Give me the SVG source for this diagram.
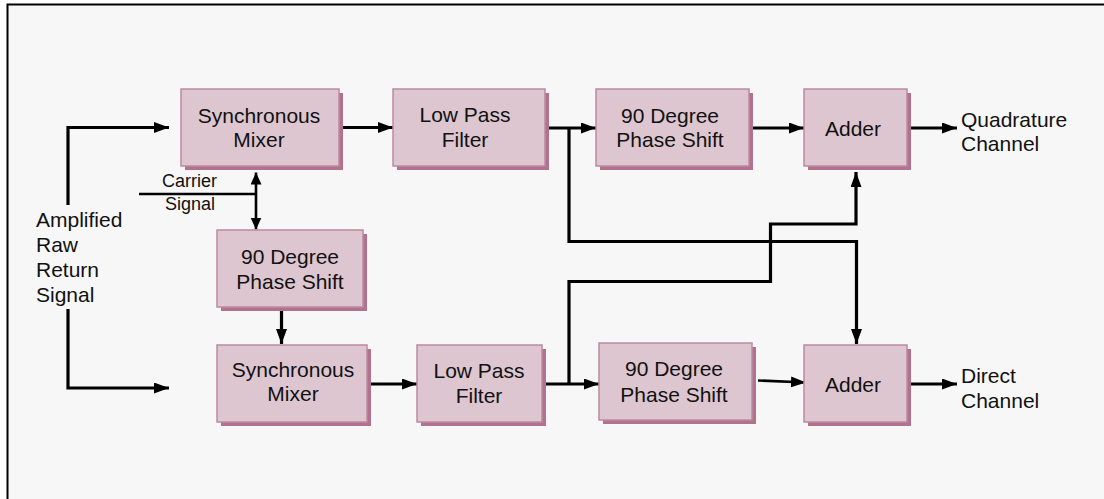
<svg xmlns="http://www.w3.org/2000/svg" width="1104" height="499" viewBox="0 0 1104 499">
<style>
.box{fill:#ddc6d0;stroke:#bd8aa1;stroke-width:1.5}
.sh{fill:#b0728c}
.t{font-family:"Liberation Sans",Arial,sans-serif;font-size:21px;fill:#111}
.ts{font-family:"Liberation Sans",Arial,sans-serif;font-size:18px;fill:#111}
.c{text-anchor:middle}
.w{fill:none;stroke:#000;stroke-width:3.2;stroke-linejoin:miter}
</style>
<defs>
<marker id="ah" markerUnits="userSpaceOnUse" markerWidth="16" markerHeight="12" refX="15" refY="5.5" orient="auto-start-reverse">
<path d="M0,0 L15,5.5 L0,11 z" fill="#000"/>
</marker>
<marker id="as" markerUnits="userSpaceOnUse" markerWidth="14" markerHeight="12" refX="12" refY="5.5" orient="auto-start-reverse">
<path d="M0,0 L12,5.5 L0,11 z" fill="#000"/>
</marker>
</defs>
<rect x="0" y="0" width="1104" height="499" fill="#fff"/>
<rect x="7.5" y="4.5" width="1200" height="600" fill="#f7f7f7" stroke="#000" stroke-width="2"/>

<g id="connectors">
<path class="w" d="M68,205 V127.5 H169" marker-end="url(#ah)"/>
<path class="w" d="M68,309 V388 H169" marker-end="url(#ah)"/>
<path class="w" d="M343,127.5 H393" marker-end="url(#ah)"/>
<path class="w" d="M545,128 H596" marker-end="url(#ah)"/>
<path class="w" d="M569,128 V241.5 H856.5 V344" marker-end="url(#ah)"/>
<path class="w" d="M753,128 H804" marker-end="url(#ah)"/>
<path class="w" d="M907,128 H957" marker-end="url(#ah)"/>
<path class="w" d="M371,384 H417" marker-end="url(#ah)"/>
<path class="w" d="M542,384 H599" marker-end="url(#ah)"/>
<path class="w" d="M569,384 V281.5 H770.5 V224 H856 V172" marker-end="url(#ah)"/>
<path fill="none" stroke="#000" stroke-width="2.6" d="M758,380.5 L806,382.5" marker-end="url(#ah)"/>
<path class="w" d="M907,384 H957" marker-end="url(#ah)"/>
<path class="w" d="M281.5,307 V344" marker-end="url(#ah)"/>
<path fill="none" stroke="#000" stroke-width="2.6" d="M139,194 H256"/>
<path fill="none" stroke="#000" stroke-width="2.6" d="M256,172.5 V229.5" marker-start="url(#as)" marker-end="url(#as)"/>
</g>

<g id="sync-mixer-top">
<rect class="sh" x="185" y="93" width="158" height="77"/>
<rect class="box" x="181" y="89" width="158" height="77"/>
<text class="t c" x="259" y="123">Synchronous</text>
<text class="t c" x="259" y="147">Mixer</text>
</g>
<g id="lpf-top">
<rect class="sh" x="397" y="93" width="152" height="77"/>
<rect class="box" x="393" y="89" width="152" height="77"/>
<text class="t c" x="465" y="122">Low Pass</text>
<text class="t c" x="465" y="147">Filter</text>
</g>
<g id="phase-top">
<rect class="sh" x="600" y="93" width="153" height="77"/>
<rect class="box" x="596" y="89" width="153" height="77"/>
<text class="t c" x="670" y="123">90 Degree</text>
<text class="t c" x="670" y="147">Phase Shift</text>
</g>
<g id="adder-top">
<rect class="sh" x="808" y="93" width="103" height="77"/>
<rect class="box" x="804" y="89" width="103" height="77"/>
<text class="t c" x="853" y="136">Adder</text>
</g>
<g id="quadrature-label">
<text class="t" x="961" y="127">Quadrature</text>
<text class="t" x="961" y="151">Channel</text>
</g>
<g id="carrier-label">
<text class="ts" x="162" y="187">Carrier</text>
<text class="ts" x="165" y="210">Signal</text>
</g>
<g id="input-label">
<text class="t" x="36" y="227">Amplified</text>
<text class="t" x="36" y="252">Raw</text>
<text class="t" x="36" y="277">Return</text>
<text class="t" x="36" y="302">Signal</text>
</g>
<g id="phase-left">
<rect class="sh" x="221" y="234" width="146" height="77"/>
<rect class="box" x="217" y="230" width="146" height="77"/>
<text class="t c" x="290" y="264">90 Degree</text>
<text class="t c" x="290" y="289">Phase Shift</text>
</g>
<g id="sync-mixer-bottom">
<rect class="sh" x="221" y="349" width="150" height="77"/>
<rect class="box" x="217" y="345" width="150" height="77"/>
<text class="t c" x="293" y="377">Synchronous</text>
<text class="t c" x="293" y="401">Mixer</text>
</g>
<g id="lpf-bottom">
<rect class="sh" x="421" y="349" width="125" height="77"/>
<rect class="box" x="417" y="345" width="125" height="77"/>
<text class="t c" x="479" y="378">Low Pass</text>
<text class="t c" x="479" y="403">Filter</text>
</g>
<g id="phase-bottom">
<rect class="sh" x="603" y="347" width="153" height="77"/>
<rect class="box" x="599" y="343" width="153" height="77"/>
<text class="t c" x="674" y="376">90 Degree</text>
<text class="t c" x="674" y="402">Phase Shift</text>
</g>
<g id="adder-bottom">
<rect class="sh" x="808" y="349" width="103" height="77"/>
<rect class="box" x="804" y="345" width="103" height="77"/>
<text class="t c" x="853" y="392">Adder</text>
</g>
<g id="direct-label">
<text class="t" x="961" y="383">Direct</text>
<text class="t" x="961" y="408">Channel</text>
</g>
</svg>
